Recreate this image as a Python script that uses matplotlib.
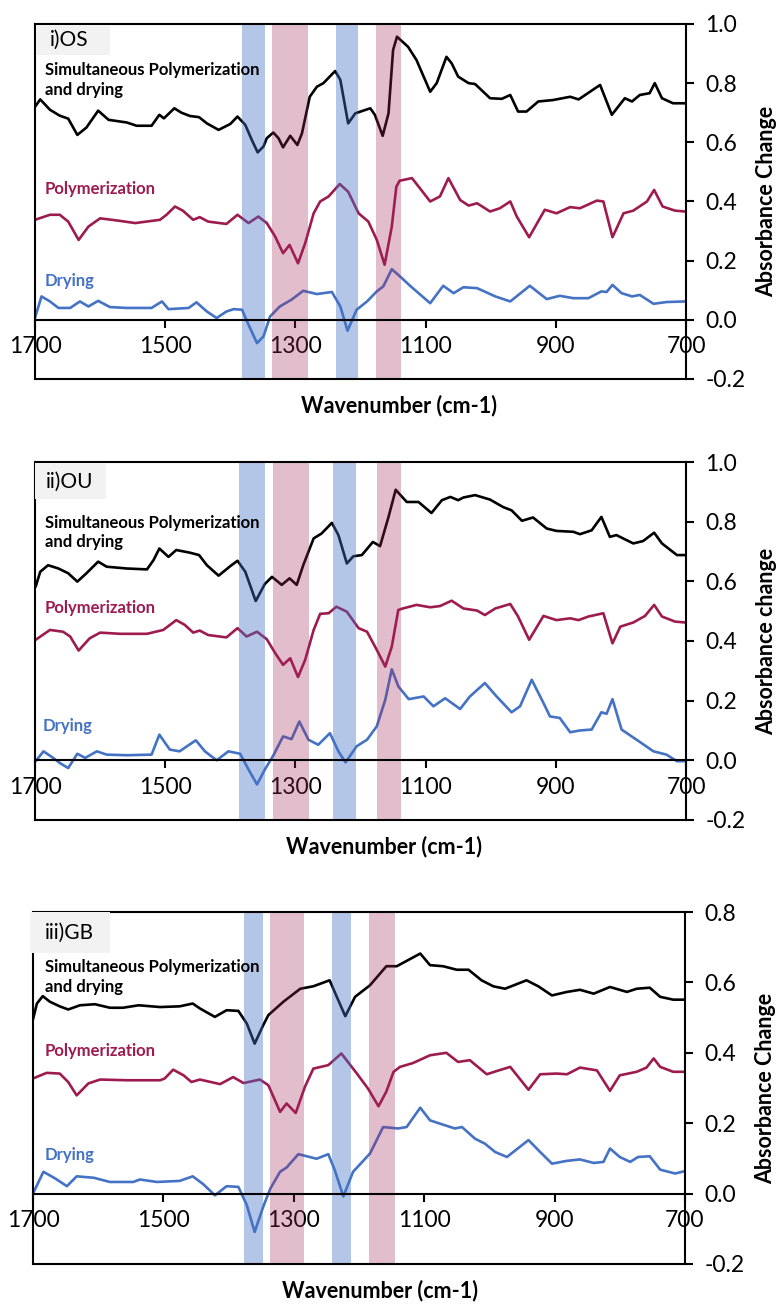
import matplotlib as mpl
import matplotlib.pyplot as plt
from matplotlib.patches import Rectangle

mpl.rcParams['font.family'] = ['Lato', 'DejaVu Sans']

# ---------------- data ----------------
# i) OS
os_sim_wn = [1700, 1692, 1677, 1662, 1649, 1635, 1621, 1603, 1587, 1559,
             1544, 1521, 1509, 1502, 1486, 1475, 1462, 1448, 1436, 1418,
             1400, 1389, 1377, 1367, 1358, 1349, 1344, 1334, 1326, 1319,
             1308, 1297, 1290, 1278, 1267, 1257, 1239, 1231, 1219, 1208,
             1185, 1178, 1166, 1157, 1150, 1144, 1127, 1114, 1093, 1083,
             1068, 1060, 1050, 1034, 1024, 1001, 983, 970, 958, 945,
             927, 904, 878, 865, 832, 814, 794, 783, 771, 756,
             748, 737, 720, 701]
os_sim = [0.72, 0.745, 0.71, 0.69, 0.68, 0.625, 0.65, 0.707, 0.676, 0.667,
          0.656, 0.656, 0.693, 0.681, 0.715, 0.70, 0.689, 0.685, 0.664, 0.642,
          0.662, 0.687, 0.659, 0.608, 0.566, 0.586, 0.614, 0.633, 0.614, 0.583,
          0.622, 0.591, 0.63, 0.754, 0.788, 0.80, 0.841, 0.811, 0.664, 0.698,
          0.715, 0.693, 0.622, 0.698, 0.912, 0.957, 0.923, 0.878, 0.771, 0.80,
          0.889, 0.867, 0.822, 0.80, 0.797, 0.749, 0.747, 0.76, 0.704, 0.704,
          0.738, 0.743, 0.754, 0.745, 0.794, 0.693, 0.749, 0.738, 0.76, 0.766,
          0.80, 0.749, 0.732, 0.732]
os_pol_wn = [1700, 1677, 1662, 1649, 1633, 1618, 1600, 1575, 1546, 1508,
             1498, 1485, 1473, 1457, 1447, 1434, 1406, 1389, 1372, 1357,
             1344, 1331, 1319, 1309, 1296, 1285, 1272, 1262, 1249, 1232,
             1219, 1203, 1188, 1175, 1163, 1152, 1145, 1140, 1121, 1093,
             1078, 1065, 1047, 1034, 1021, 1001, 986, 970, 960, 941,
             917, 899, 878, 863, 837, 827, 813, 796, 781, 760,
             749, 736, 717, 701]
os_pol = [0.338, 0.355, 0.355, 0.332, 0.27, 0.315, 0.343, 0.336, 0.327, 0.338,
          0.355, 0.383, 0.369, 0.338, 0.347, 0.332, 0.324, 0.355, 0.327, 0.349,
          0.327, 0.281, 0.225, 0.253, 0.191, 0.259, 0.36, 0.40, 0.417, 0.459,
          0.433, 0.36, 0.332, 0.27, 0.186, 0.315, 0.45, 0.47, 0.479, 0.40,
          0.417, 0.479, 0.405, 0.386, 0.394, 0.366, 0.377, 0.40, 0.349, 0.279,
          0.372, 0.36, 0.381, 0.377, 0.403, 0.40, 0.279, 0.36, 0.369, 0.40,
          0.439, 0.383, 0.369, 0.366]
os_dry_wn = [1700, 1690, 1677, 1664, 1646, 1631, 1618, 1603, 1585, 1559,
             1521, 1505, 1495, 1464, 1452, 1436, 1421, 1406, 1395, 1382,
             1372, 1359, 1349, 1339, 1324, 1306, 1288, 1267, 1244, 1231,
             1220, 1206, 1190, 1175, 1165, 1152, 1139, 1124, 1093, 1073,
             1057, 1042, 1021, 993, 970, 940, 914, 894, 873, 850,
             830, 822, 813, 799, 783, 771, 750, 730, 701]
os_dry = [0.007, 0.079, 0.062, 0.04, 0.04, 0.062, 0.045, 0.064, 0.043, 0.04,
          0.04, 0.062, 0.036, 0.04, 0.059, 0.028, 0.006, 0.028, 0.036, 0.034,
          -0.017, -0.079, -0.056, 0.011, 0.045, 0.068, 0.098, 0.087, 0.094, 0.045,
          -0.037, 0.034, 0.062, 0.096, 0.113, 0.171, 0.146, 0.115, 0.056, 0.115,
          0.09, 0.11, 0.107, 0.079, 0.062, 0.115, 0.07, 0.081, 0.073, 0.073,
          0.096, 0.094, 0.118, 0.09, 0.079, 0.084, 0.054, 0.06, 0.062]

# ii) OU
ou_sim_wn = [1699, 1692, 1680, 1664, 1649, 1635, 1621, 1603, 1590, 1559,
             1528, 1518, 1509, 1495, 1483, 1462, 1448, 1436, 1418, 1400,
             1389, 1377, 1361, 1347, 1336, 1321, 1309, 1298, 1288, 1272,
             1260, 1244, 1234, 1221, 1211, 1198, 1181, 1170, 1157, 1146,
             1129, 1111, 1091, 1075, 1062, 1050, 1042, 1024, 1001, 981,
             968, 952, 935, 914, 899, 873, 863, 845, 830, 817,
             807, 781, 766, 749, 737, 714, 701]
ou_sim = [0.582, 0.632, 0.654, 0.643, 0.627, 0.599, 0.627, 0.666, 0.649, 0.643,
          0.640, 0.671, 0.71, 0.682, 0.705, 0.696, 0.688, 0.654, 0.619, 0.651,
          0.669, 0.632, 0.534, 0.591, 0.615, 0.588, 0.61, 0.588, 0.654, 0.744,
          0.76, 0.796, 0.755, 0.66, 0.684, 0.688, 0.732, 0.718, 0.816, 0.907,
          0.866, 0.866, 0.829, 0.872, 0.883, 0.872, 0.881, 0.889, 0.874, 0.849,
          0.838, 0.803, 0.814, 0.777, 0.769, 0.766, 0.758, 0.771, 0.816, 0.749,
          0.755, 0.727, 0.735, 0.763, 0.727, 0.688, 0.688]
ou_pol_wn = [1699, 1677, 1657, 1646, 1633, 1616, 1600, 1569, 1528, 1503,
             1483, 1470, 1457, 1447, 1434, 1406, 1389, 1375, 1359, 1344,
             1331, 1319, 1308, 1296, 1285, 1272, 1262, 1249, 1237, 1221,
             1203, 1190, 1175, 1162, 1152, 1142, 1135, 1114, 1093, 1078,
             1060, 1042, 1021, 1009, 993, 970, 958, 941, 919, 899,
             878, 865, 850, 827, 813, 801, 781, 763, 749, 737,
             717, 701]
ou_pol = [0.404, 0.437, 0.431, 0.415, 0.368, 0.409, 0.428, 0.424, 0.424, 0.437,
          0.47, 0.454, 0.428, 0.435, 0.42, 0.412, 0.443, 0.415, 0.431, 0.406,
          0.359, 0.32, 0.342, 0.279, 0.337, 0.437, 0.491, 0.493, 0.515, 0.498,
          0.443, 0.431, 0.37, 0.314, 0.381, 0.504, 0.509, 0.521, 0.513, 0.517,
          0.535, 0.509, 0.502, 0.487, 0.509, 0.524, 0.482, 0.404, 0.484, 0.47,
          0.476, 0.47, 0.482, 0.493, 0.392, 0.448, 0.462, 0.484, 0.521, 0.482,
          0.465, 0.462]
ou_dry_wn = [1699, 1687, 1672, 1662, 1649, 1635, 1623, 1605, 1590, 1559,
             1521, 1509, 1493, 1478, 1453, 1439, 1421, 1403, 1385, 1372,
             1359, 1347, 1334, 1319, 1306, 1294, 1280, 1265, 1247, 1234,
             1223, 1206, 1190, 1175, 1162, 1152, 1142, 1126, 1103, 1088,
             1070, 1047, 1032, 1009, 991, 968, 955, 937, 919, 909,
             894, 878, 863, 845, 830, 822, 813, 799, 776, 750,
             730, 714, 701]
ou_dry = [-0.003, 0.03, 0.008, -0.009, -0.026, 0.022, 0.008, 0.03, 0.019, 0.017,
          0.019, 0.086, 0.036, 0.03, 0.067, 0.03, 0.0, 0.03, 0.022, -0.031,
          -0.081, -0.031, 0.016, 0.08, 0.071, 0.13, 0.069, 0.052, 0.091, 0.03,
          -0.007, 0.047, 0.069, 0.114, 0.203, 0.305, 0.248, 0.205, 0.214, 0.181,
          0.208, 0.172, 0.214, 0.259, 0.214, 0.161, 0.181, 0.27, 0.192, 0.147,
          0.142, 0.094, 0.1, 0.103, 0.161, 0.156, 0.205, 0.103, 0.069, 0.03,
          0.019, -0.003, -0.003]

# iii) GB
gb_sim_wn = [1700, 1694, 1685, 1674, 1659, 1646, 1628, 1605, 1582, 1562,
             1538, 1505, 1475, 1455, 1444, 1421, 1403, 1385, 1372, 1360,
             1347, 1339, 1316, 1290, 1270, 1245, 1234, 1221, 1206, 1183,
             1158, 1142, 1106, 1091, 1071, 1050, 1032, 1012, 994, 976,
             943, 925, 904, 881, 861, 840, 815, 789, 774, 754,
             738, 718, 702]
gb_sim = [0.495, 0.54, 0.561, 0.545, 0.532, 0.523, 0.535, 0.538, 0.528, 0.528,
          0.535, 0.53, 0.532, 0.54, 0.526, 0.502, 0.521, 0.519, 0.483, 0.426,
          0.478, 0.507, 0.545, 0.582, 0.589, 0.606, 0.559, 0.504, 0.559, 0.592,
          0.646, 0.646, 0.682, 0.649, 0.646, 0.636, 0.636, 0.606, 0.589, 0.582,
          0.606, 0.589, 0.563, 0.573, 0.579, 0.568, 0.587, 0.573, 0.582, 0.585,
          0.559, 0.551, 0.551]
gb_pol_wn = [1700, 1679, 1659, 1646, 1633, 1615, 1597, 1556, 1505, 1498,
             1485, 1469, 1457, 1444, 1413, 1393, 1377, 1352, 1339, 1321,
             1311, 1297, 1283, 1270, 1247, 1227, 1204, 1186, 1170, 1158,
             1147, 1137, 1117, 1091, 1066, 1048, 1030, 1004, 989, 968,
             940, 922, 897, 881, 861, 835, 815, 800, 774, 759,
             748, 738, 718, 702]
gb_pol = [0.327, 0.343, 0.341, 0.317, 0.279, 0.313, 0.324, 0.322, 0.322, 0.327,
          0.352, 0.336, 0.317, 0.324, 0.311, 0.331, 0.314, 0.324, 0.308, 0.232,
          0.256, 0.229, 0.303, 0.355, 0.365, 0.398, 0.343, 0.298, 0.248, 0.29,
          0.346, 0.36, 0.371, 0.393, 0.40, 0.374, 0.379, 0.339, 0.348, 0.36,
          0.295, 0.339, 0.341, 0.339, 0.358, 0.35, 0.292, 0.336, 0.346, 0.358,
          0.384, 0.36, 0.346, 0.346]
gb_dry_wn = [1700, 1684, 1666, 1648, 1633, 1607, 1582, 1546, 1536, 1510,
             1475, 1455, 1439, 1421, 1403, 1385, 1372, 1360, 1347, 1336,
             1321, 1311, 1293, 1265, 1247, 1237, 1224, 1209, 1183, 1163,
             1140, 1127, 1106, 1091, 1068, 1053, 1042, 1022, 1007, 991,
             973, 940, 922, 904, 881, 861, 840, 825, 815, 800,
             784, 772, 754, 738, 715, 702]
gb_dry = [0.0, 0.062, 0.043, 0.021, 0.049, 0.045, 0.033, 0.033, 0.04, 0.033,
          0.036, 0.049, 0.027, -0.005, 0.021, 0.019, -0.033, -0.109, -0.038, 0.014,
          0.062, 0.074, 0.112, 0.099, 0.112, 0.066, -0.008, 0.062, 0.114, 0.189,
          0.185, 0.189, 0.244, 0.208, 0.194, 0.185, 0.189, 0.156, 0.142, 0.118,
          0.104, 0.152, 0.118, 0.085, 0.093, 0.097, 0.087, 0.09, 0.128, 0.104,
          0.09, 0.104, 0.106, 0.068, 0.057, 0.063]

# highlighted bands (wavenumber ranges)
os_blue_bands = [(1382, 1347), (1238, 1204)]
os_pink_bands = [(1336, 1281), (1176, 1138)]
ou_blue_bands = [(1387, 1347), (1242, 1207)]
ou_pink_bands = [(1334, 1279), (1175, 1138)]
gb_blue_bands = [(1377, 1347), (1242, 1212)]
gb_pink_bands = [(1336, 1285), (1185, 1144)]

x_ticks = [1700, 1500, 1300, 1100, 900, 700]
y_ticks_12 = [-0.2, 0.0, 0.2, 0.4, 0.6, 0.8, 1.0]
y_ticks_3 = [-0.2, 0.0, 0.2, 0.4, 0.6, 0.8]

BLACK = '#000000'
CRIMSON = '#9e1b50'
BLUE = '#4472c4'

panels = [
    dict(rect=[0.0450, 0.7094, 0.8368, 0.2722], tag='i)OS', ylab='Absorbance Change',
         sim=(os_sim_wn, os_sim), pol=(os_pol_wn, os_pol), dry=(os_dry_wn, os_dry),
         blue=os_blue_bands, pink=os_pink_bands, yticks=y_ticks_12,
         box=(0.003, 0.912, 0.112, 0.085), tag_xy=(0.023, 0.955),
         sim_xy=(0.015, 0.842), pol_xy=(0.015, 0.535), dry_xy=(0.015, 0.276),
         xlab_x=0.559),
    dict(rect=[0.0450, 0.3712, 0.8368, 0.2745], tag='ii)OU', ylab='Absorbance change',
         sim=(ou_sim_wn, ou_sim), pol=(ou_pol_wn, ou_pol), dry=(ou_dry_wn, ou_dry),
         blue=ou_blue_bands, pink=ou_pink_bands, yticks=y_ticks_12,
         box=(0.0, 0.897, 0.109, 0.1), tag_xy=(0.017, 0.944),
         sim_xy=(0.015, 0.803), pol_xy=(0.015, 0.592), dry_xy=(0.012, 0.263),
         xlab_x=0.536),
    dict(rect=[0.0424, 0.0307, 0.8380, 0.2699], tag='iii)GB', ylab='Absorbance Change',
         sim=(gb_sim_wn, gb_sim), pol=(gb_pol_wn, gb_pol), dry=(gb_dry_wn, gb_dry),
         blue=gb_blue_bands, pink=gb_pink_bands, yticks=y_ticks_3,
         box=(-0.004, 0.884, 0.122, 0.116), tag_xy=(0.019, 0.94),
         sim_xy=(0.018, 0.815), pol_xy=(0.018, 0.606), dry_xy=(0.018, 0.31),
         xlab_x=0.532),
]

fig = plt.figure(figsize=(7.78, 13.04), dpi=100)

for p in panels:
    ax = fig.add_axes(p['rect'])
    for key, col in (('sim', BLACK), ('pol', CRIMSON), ('dry', BLUE)):
        ax.plot(*p[key], color=col, lw=1.9, zorder=2,
                solid_joinstyle='round', solid_capstyle='round')
    # bands sit on top of the lines, semi-transparent
    for a, b in p['blue']:
        ax.axvspan(a, b, color=BLUE, alpha=0.4, lw=0, zorder=3)
    for a, b in p['pink']:
        ax.axvspan(a, b, color='#a0285a', alpha=0.3, lw=0, zorder=3)

    ax.set_xlim(1700, 700)
    ax.set_ylim(p['yticks'][0], p['yticks'][-1])
    ax.set_xticks(x_ticks)
    ax.set_yticks(p['yticks'])
    ax.set_yticklabels(['%.1f' % v for v in p['yticks']])

    ax.spines['bottom'].set_position(('data', 0))
    for s in ax.spines.values():
        s.set_linewidth(1.5)
        s.set_zorder(4)
    # bottom edge of the frame
    ax.plot([0, 1], [0, 0], transform=ax.transAxes, color='k', lw=1.5, clip_on=False, zorder=4)

    ax.yaxis.tick_right()
    ax.tick_params(axis='x', direction='out', length=6, width=1.5, pad=6, labelsize=16.5)
    ax.tick_params(axis='y', direction='out', length=6, width=1.5, pad=8, labelsize=16.5)

    ax.text(1.1244, 0.5, p['ylab'], transform=ax.transAxes, rotation=90,
            ha='center', va='center', fontsize=15.5, fontweight='bold')
    ax.text(p['xlab_x'], -0.075, 'Wavenumber (cm-1)', transform=ax.transAxes,
            ha='center', va='center', fontsize=15.5, fontweight='bold')

    bx, by, bw, bh = p['box']
    ax.add_patch(Rectangle((bx, by), bw, bh, transform=ax.transAxes,
                           facecolor='#f2f2f2', edgecolor='none', clip_on=False, zorder=5))
    ax.text(*p['tag_xy'], p['tag'], transform=ax.transAxes, ha='left', va='center',
            fontsize=15, zorder=6)
    ax.text(*p['sim_xy'], 'Simultaneous Polymerization\nand drying', transform=ax.transAxes,
            ha='left', va='center', fontsize=12, fontweight='bold', linespacing=1.3,
            color=BLACK, zorder=6)
    ax.text(*p['pol_xy'], 'Polymerization', transform=ax.transAxes, ha='left', va='center',
            fontsize=12, fontweight='bold', color=CRIMSON, zorder=6)
    ax.text(*p['dry_xy'], 'Drying', transform=ax.transAxes, ha='left', va='center',
            fontsize=12, fontweight='bold', color=BLUE, zorder=6)

fig.savefig('out.png', dpi=100)
